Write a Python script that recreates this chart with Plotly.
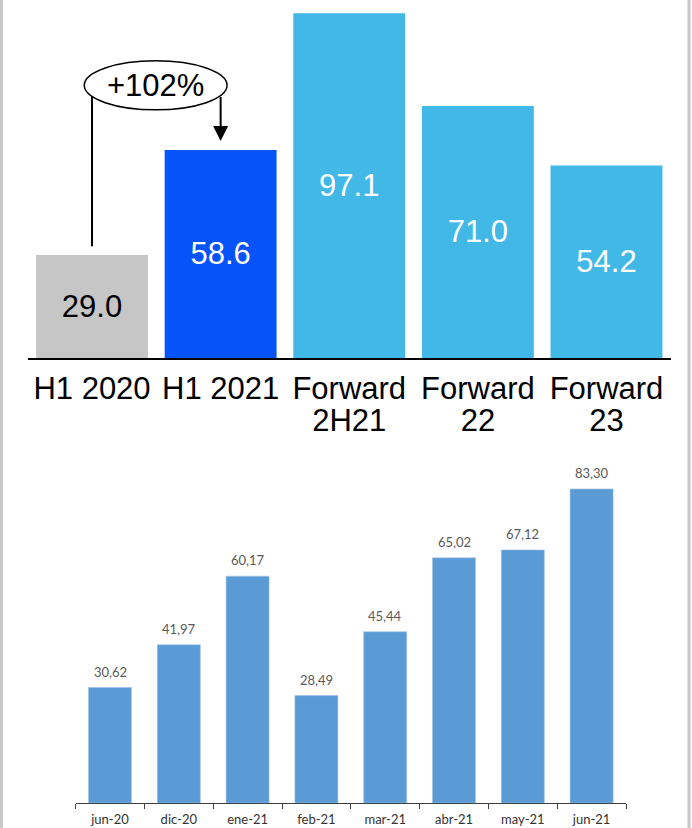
import plotly.graph_objects as go

# --- Data -------------------------------------------------------------
periods = ["H1 2020", "H1 2021", "Forward 2H21", "Forward 22", "Forward 23"]
period_line1 = ["H1 2020", "H1 2021", "Forward", "Forward", "Forward"]
period_line2 = ["", "", "2H21", "22", "23"]
period_values = [29.0, 58.6, 97.1, 71.0, 54.2]
period_colors = ["#C6C6C6", "#0653FA", "#41B8E6", "#41B8E6", "#41B8E6"]
period_text_colors = ["#000000", "#FFFFFF", "#FFFFFF", "#FFFFFF", "#FFFFFF"]

months = ["jun-20", "dic-20", "ene-21", "feb-21", "mar-21", "abr-21", "may-21", "jun-21"]
month_values = [30.62, 41.97, 60.17, 28.49, 45.44, 65.02, 67.12, 83.30]

W, H = 692, 828
ARIAL = "Liberation Sans, Arial, sans-serif"
CAL = "Lato, Calibri, sans-serif"


def px_x(p):
    return p / W


def px_y(p):
    return 1 - p / H


fig = go.Figure()

# --- Top chart: half-year / forward bars -------------------------------
fig.add_trace(go.Bar(
    x=periods, y=period_values, width=0.87,
    marker=dict(color=period_colors, line=dict(width=0)),
    text=[f"{v:.1f}" for v in period_values],
    textposition="inside", insidetextanchor="middle", textangle=0,
    textfont=dict(family=ARIAL, size=31, color=period_text_colors),
    xaxis="x", yaxis="y", showlegend=False, hoverinfo="skip",
))
# carrier for the second line of the category labels
fig.add_trace(go.Scatter(x=[], y=[], xaxis="x3", yaxis="y", showlegend=False))

# --- Bottom chart: monthly bars ----------------------------------------
fig.add_trace(go.Bar(
    x=months, y=month_values, width=0.625,
    marker=dict(color="#5B9BD5", line=dict(color="#9DC3E6", width=0.6)),
    xaxis="x2", yaxis="y2", showlegend=False, hoverinfo="skip",
))

annotations = []
for m, v in zip(months, month_values):
    annotations.append(dict(
        x=m, y=v, xref="x2", yref="y2", yanchor="bottom", yshift=6,
        text=f"{v:.2f}".replace(".", ","), showarrow=False,
        font=dict(family=CAL, size=13, color="#595959"),
    ))

# growth callout between the first two periods
growth = round((period_values[1] / period_values[0] - 1) * 100)
ell_x0, ell_x1 = -0.06, 1.05
ell_y0, ell_y1 = 69.9, 83.7
ell_cx, ell_cy = (ell_x0 + ell_x1) / 2, (ell_y0 + ell_y1) / 2
ell_a, ell_b = (ell_x1 - ell_x0) / 2, (ell_y1 - ell_y0) / 2


def ellipse_bottom(xc):
    dx = (xc - ell_cx) / ell_a
    return ell_cy - ell_b * (max(0.0, 1 - dx * dx)) ** 0.5


annotations.append(dict(
    x=ell_cx, y=ell_cy, xref="x", yref="y", text=f"+{growth}%",
    showarrow=False, font=dict(family=ARIAL, size=31, color="#000000"),
))
annotations.append(dict(
    x=1, y=period_values[1] + 2.5, xref="x", yref="y",
    ax=1, ay=ellipse_bottom(1), axref="x", ayref="y",
    showarrow=True, arrowhead=2, arrowsize=1.5, arrowwidth=2,
    arrowcolor="#000000", text="", standoff=0,
))

shapes = [
    dict(type="circle", xref="x", yref="y", x0=ell_x0, x1=ell_x1, y0=ell_y0, y1=ell_y1,
         line=dict(color="#000000", width=1.5), fillcolor="rgba(255,255,255,0)", layer="above"),
    dict(type="line", xref="x", yref="y", x0=0, x1=0,
         y0=period_values[0] + 2.5, y1=ellipse_bottom(0),
         line=dict(color="#000000", width=2)),
    # page frame
    dict(type="line", xref="paper", yref="paper", x0=px_x(1.5), x1=px_x(1.5), y0=0, y1=1,
         line=dict(color="#C8C8C8", width=3)),
    dict(type="line", xref="paper", yref="paper", x0=px_x(689), x1=px_x(689), y0=0, y1=1,
         line=dict(color="#C8C8C8", width=3)),
]

fig.update_layout(
    width=W, height=H,
    margin=dict(l=0, r=0, t=0, b=0, autoexpand=False),
    paper_bgcolor="#FFFFFF", plot_bgcolor="#FFFFFF",
    xaxis=dict(
        domain=[px_x(27.7), px_x(670.8)], anchor="y",
        type="category", categoryorder="array", categoryarray=periods,
        tickmode="array", tickvals=periods, ticktext=period_line1,
        tickfont=dict(family=ARIAL, size=31, color="#000000"),
        showline=True, linecolor="#000000", linewidth=2,
        ticks="", showgrid=False, zeroline=False, ticklabelstandoff=2,
        automargin=False,
    ),
    xaxis3=dict(
        overlaying="x", anchor="y", type="linear", range=[-0.5, 4.5],
        tickmode="array", tickvals=list(range(len(periods))), ticktext=period_line2,
        tickfont=dict(family=ARIAL, size=31, color="#000000"),
        showline=False, ticks="", showgrid=False, zeroline=False,
        ticklabelstandoff=41, automargin=False,
    ),
    yaxis=dict(domain=[px_y(358), 1], range=[0, 358 / 3.55], visible=False),
    xaxis2=dict(
        domain=[px_x(75.6), px_x(626)], anchor="y2",
        type="category", categoryorder="array", categoryarray=months,
        tickfont=dict(family=CAL, size=13, color="#333333"),
        showline=True, linecolor="#404040", linewidth=1,
        ticks="outside", ticklen=5, tickcolor="#404040", tickson="boundaries",
        showgrid=False, zeroline=False, ticklabelstandoff=4, automargin=False,
    ),
    yaxis2=dict(domain=[px_y(803), px_y(460)], range=[0, 343 / 3.77], visible=False),
    annotations=annotations,
    shapes=shapes,
)

fig.write_html("out.html")
